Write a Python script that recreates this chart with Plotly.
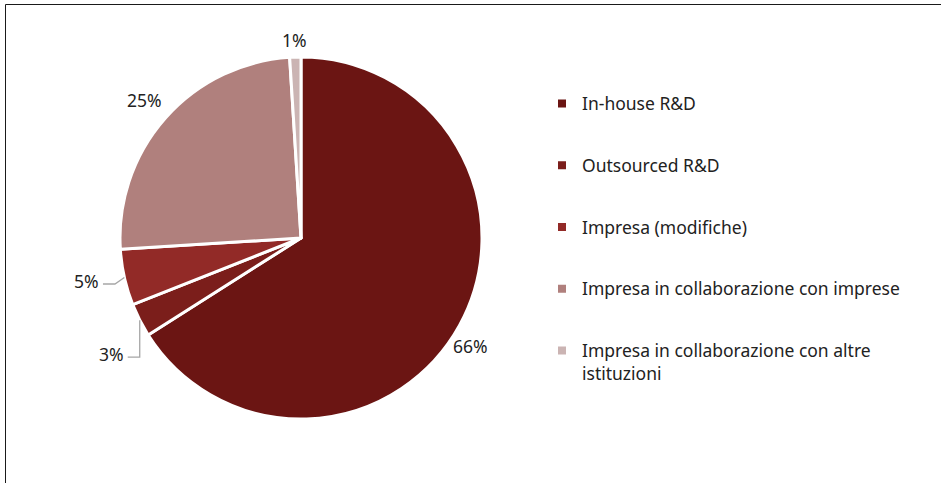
import math
import plotly.graph_objects as go

# ---- data ----
categories = [
    "In-house R&D",
    "Outsourced R&D",
    "Impresa (modifiche)",
    "Impresa in collaborazione con imprese",
    "Impresa in collaborazione con altre istituzioni",
]
legend_labels = [
    "In-house R&D",
    "Outsourced R&D",
    "Impresa (modifiche)",
    "Impresa in collaborazione con imprese",
    "Impresa in collaborazione con altre<br>istituzioni",
]
values = [66, 3, 5, 25, 1]

# ---- style ----
colors = ["#6B1513", "#7B1E1B", "#922A27", "#B0807D", "#CBB4B3"]
W, H = 941, 483
CX, CY, R = 301, 238, 181
FONT = "Noto Sans"
FS = 17.5
TXT = "#222222"
label_dist = [1.11, None, None, 1.15, 1.095]       # centre distance factor
label_dang = [3.6, 0, 0, 0, 0]                     # angle nudge (deg)
leader = {1: (0, 37), 2: (-9.4, 6.5)}              # elbow offset from slice edge point

fig = go.Figure()
fig.add_trace(go.Pie(
    labels=categories, values=values, sort=False, direction="clockwise", rotation=0,
    marker=dict(colors=colors, line=dict(color="white", width=3)),
    textinfo="none", hoverinfo="label+percent", showlegend=False,
    domain=dict(x=[(CX - R) / W, (CX + R) / W], y=[(H - CY - R) / H, (H - CY + R) / H]),
))

for name, c in zip(legend_labels, colors):
    fig.add_trace(go.Scatter(
        x=[None], y=[None], mode="markers", name=name, legendgroup=name,
        marker=dict(symbol="square", size=8, color=c),
    ))

def px2paper(x, y):
    return x / W, 1 - y / H

total = sum(values)
annotations, shapes = [], []
cum = 0
for i, v in enumerate(values):
    mid = (cum + v / 2) / total * 2 * math.pi
    cum += v
    pct = f"{round(v / total * 100)}%"
    if i in leader:
        s, c = math.sin(mid), math.cos(mid)
        ex, ey = CX + R * s, CY - R * c
        bx, by = ex + leader[i][0], ey + leader[i][1]
        hx = bx - 12
        pts = [(hx, by), (bx, by), (ex, ey)]
        path = "M " + " L ".join(f"{p[0] / W},{1 - p[1] / H}" for p in pts)
        shapes.append(dict(type="path", xref="paper", yref="paper", path=path,
                           line=dict(color="#A6A6A6", width=1.3)))
        ax, ay = px2paper(hx - 2, by - 3)
        annotations.append(dict(x=ax, y=ay, xref="paper", yref="paper", text=pct,
                                showarrow=False, xanchor="right", yanchor="middle",
                                font=dict(family=FONT, size=FS, color=TXT)))
    else:
        a = mid + math.radians(label_dang[i])
        s, c = math.sin(a), math.cos(a)
        d = R * label_dist[i]
        ax, ay = px2paper(CX + d * s, CY - d * c)
        annotations.append(dict(x=ax, y=ay, xref="paper", yref="paper", text=pct,
                                showarrow=False, xanchor="center", yanchor="middle",
                                font=dict(family=FONT, size=FS, color=TXT)))

# frame (left and top edges)
shapes.append(dict(type="line", xref="paper", yref="paper", x0=5.5 / W, x1=5.5 / W,
                   y0=0, y1=1 - 4.5 / H, line=dict(color="#1a1a1a", width=1)))
shapes.append(dict(type="line", xref="paper", yref="paper", x0=5.5 / W, x1=1,
                   y0=1 - 4.5 / H, y1=1 - 4.5 / H, line=dict(color="#1a1a1a", width=1)))

fig.update_layout(
    width=W, height=H, margin=dict(l=0, r=0, t=0, b=0),
    paper_bgcolor="white", plot_bgcolor="white",
    xaxis=dict(visible=False), yaxis=dict(visible=False),
    annotations=annotations, shapes=shapes,
    legend=dict(x=542 / W, y=1 - 85.5 / H, xanchor="left", yanchor="top",
                font=dict(family=FONT, size=FS, color=TXT), tracegroupgap=36,
                valign="top", bgcolor="rgba(0,0,0,0)"),
    font=dict(family=FONT),
)
fig.write_html("out.html", config={"displayModeBar": False},
               post_script="document.body.style.margin='0';document.body.style.overflow='hidden';")
